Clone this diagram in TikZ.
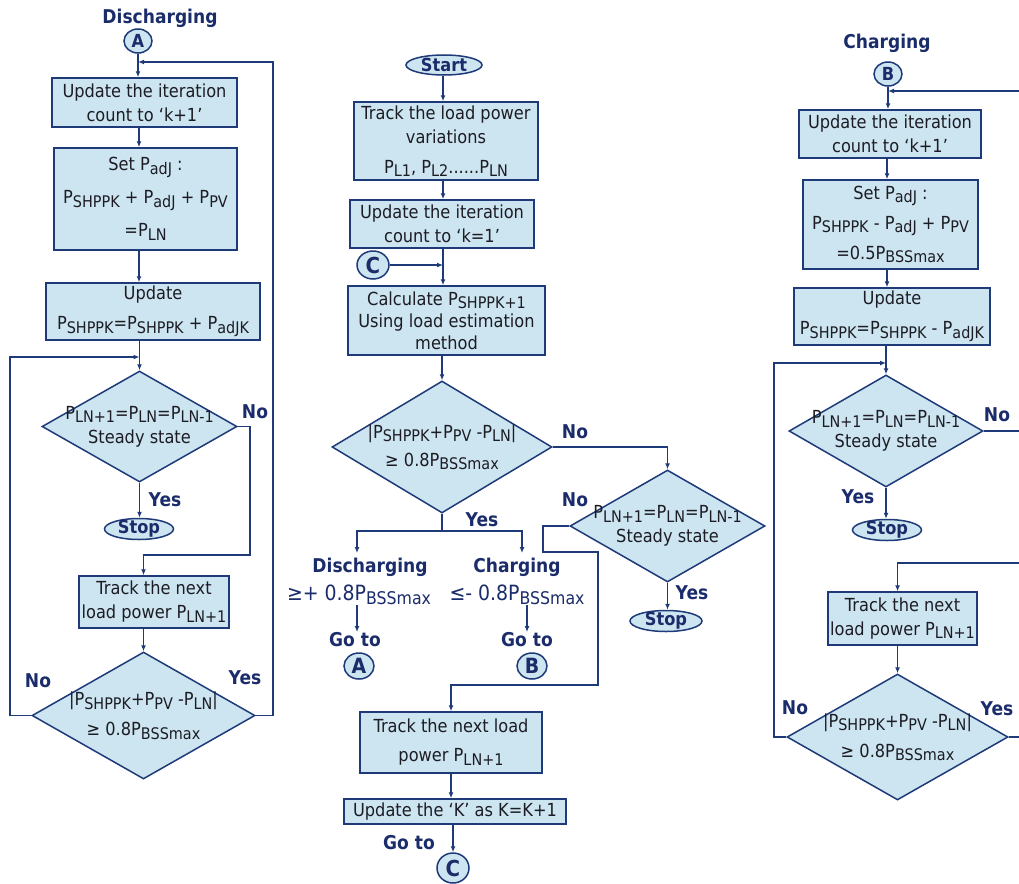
\documentclass[tikz,border=0pt]{standalone}
\usepackage{fontspec}
\setmainfont{DejaVu Sans}[FakeStretch=0.9]
\usetikzlibrary{shapes.geometric,arrows.meta}
\definecolor{navy}{HTML}{1E3A78}
\definecolor{boxfill}{HTML}{CDE5F0}
\definecolor{txt}{HTML}{1C1C24}
\definecolor{lab}{HTML}{1B2C6B}
\newcommand{\lo}[1]{\raisebox{-3.5pt}{\fontsize{16}{16}\selectfont #1}}
\newcommand{\loL}[1]{\raisebox{-3.5pt}{\fontsize{17.5}{17.5}\selectfont #1}}
\tikzset{
  box/.style={draw=navy, fill=boxfill, line width=1.5pt, inner sep=0pt, align=center, text=txt, font=\fontsize{18}{24}\selectfont},
  dia/.style={diamond, draw=navy, fill=boxfill, line width=1.5pt, inner sep=0pt},
  dtext/.style={align=center, text=txt, font=\fontsize{18}{24}\selectfont},
  term/.style={ellipse, draw=navy, fill=boxfill, line width=1.5pt, inner sep=0pt},
  termtext/.style={text=lab, font=\bfseries\fontsize{18}{18}\selectfont},
  lbl/.style={text=lab, inner sep=0pt, font=\bfseries\fontsize{19}{19}\selectfont},
  val/.style={text=lab, inner sep=0pt, font=\fontsize{21}{21}\selectfont},
  arr/.style={draw=navy, line width=1.5pt, -{Latex[length=6pt,width=5pt]}},
  ln/.style={draw=navy, line width=1.5pt},
}
\begin{document}
\begin{tikzpicture}[x=1pt,y=-1pt]
\fill[white] (0,0) rectangle (1019,883);
\path[use as bounding box, clip] (0,0) rectangle (1019,883);
\coordinate (lx) at (139,0);
\coordinate (cx) at (443,0);
\coordinate (rx) at (887,0);
% ---------------- Left column: Discharging ----------------
\node[lbl] (tDis) at (160,18) {Discharging};
\node[term, minimum width=28pt, minimum height=24pt, label={[termtext]center:A}] (cA1) at (138,41) {};
\node[box, minimum width=185pt, minimum height=49pt] (L1) at (144.5,102.5) {Update the iteration\\count to ‘k+1’};
\node[box, minimum width=183pt, minimum height=102pt] (L2) at (145.5,199) {Set P\lo{adJ} :\\[9pt]P\lo{SHPPK} + P\lo{adJ} + P\lo{PV}\\[9pt]=P\lo{LN}};
\node[box, minimum width=214pt, minimum height=57pt] (L3) at (153,311.5) {Update\\[6pt]P\lo{SHPPK}=P\lo{SHPPK} + P\lo{adJK}};
\node[dia, minimum width=195pt, minimum height=111pt, label={[dtext]center:{P\lo{LN+1}=P\lo{LN}=P\lo{LN-1}\\Steady state}}] (LD1) at (139.5,426.5) {};
\node[term, minimum width=69pt, minimum height=21pt, label={[termtext]center:Stop}] (LS) at (139,529) {};
\node[box, minimum width=150pt, minimum height=52pt] (L4) at (154,602) {Track the next\\load power P\lo{LN+1}};
\node[dia, minimum width=223pt, minimum height=127pt, label={[dtext]center:{|P\lo{SHPPK}+P\lo{PV} -P\lo{LN}|\\[6pt]≥ 0.8P\lo{BSSmax}}}] (LD2) at (143.5,715.5) {};
\node[lbl] (lNo1) at (255,412) {No};
\node[lbl] (lYes1) at (165,500) {Yes};
\node[lbl] (lNo2) at (38,681) {No};
\node[lbl] (lYes2) at (245,678) {Yes};
\coordinate (ln1) at (250,555);
\coordinate (lj1) at (10,357);
\coordinate (lj2) at (273,62);
\draw[arr] (cA1.south) -- (cA1.south |- L1.north);
\draw[arr] (L1.south -| lx) -- (L2.north -| lx);
\draw[arr] (L2.south -| lx) -- (L3.north -| lx);
\draw[arr] (L3.south -| LD1.north) -- (LD1.north);
\draw[arr] (LD1.south) -- (LD1.south |- LS.north);
\draw[arr] (LD1.east) -| (ln1) -| (L4.north -| LD2.north);
\draw[arr] (L4.south -| LD2.north) -- (LD2.north);
\draw[arr] (LD2.west) -| (lj1) -- (lj1 -| LD1.north);
\draw[arr] (LD2.east) -| (lj2) -- (lj2 -| cA1);
% ---------------- Centre column ----------------
\node[term, minimum width=76pt, minimum height=20pt, label={[termtext]center:Start}] (St) at (444,65) {};
\node[box, minimum width=184pt, minimum height=78pt] (C1) at (446,141) {Track the load power\\variations\\[6pt]P\lo{L1}, P\lo{L2}......P\lo{LN}};
\node[box, minimum width=184pt, minimum height=48pt] (C2) at (442,224) {Update the iteration\\count to ‘k=1’};
\node[term, minimum width=32pt, minimum height=28pt, label={[termtext, font=\bfseries\fontsize{22}{22}\selectfont]center:C}] (cC1) at (373,265) {};
\node[box, minimum width=197pt, minimum height=69pt, font=\fontsize{18}{22}\selectfont] (C3) at (446.5,320.5) {Calculate P\lo{SHPPK+1}\\Using load estimation\\method};
\node[dia, minimum width=220pt, minimum height=132pt, label={[dtext]center:{|P\lo{SHPPK}+P\lo{PV} -P\lo{LN}|\\[4pt]≥ 0.8P\lo{BSSmax}}}] (CD1) at (442,447) {};
\node[dia, minimum width=195pt, minimum height=112pt, label={[dtext]center:{P\lo{LN+1}=P\lo{LN}=P\lo{LN-1}\\Steady state}}] (CD2) at (667.5,526) {};
\node[term, minimum width=72pt, minimum height=21pt, label={[termtext]center:Stop}] (CS) at (666,621) {};
\node[lbl] (cDis) at (370,567) {Discharging};
\node[val] (cDisV) at (359,595) {≥+ 0.8P\loL{BSSmax}};
\node[lbl] (cGoA) at (355,640) {Go to};
\node[term, minimum width=30pt, minimum height=26pt, label={[termtext, font=\bfseries\fontsize{21}{21}\selectfont]center:A}] (cA2) at (359,666) {};
\node[lbl] (cCh) at (517,567) {Charging};
\node[val] (cChV) at (517,595) {≤- 0.8P\loL{BSSmax}};
\node[lbl] (cGoB) at (527,640) {Go to};
\node[term, minimum width=30pt, minimum height=26pt, label={[termtext, font=\bfseries\fontsize{21}{21}\selectfont]center:B}] (cB2) at (532,666) {};
\node[box, minimum width=182pt, minimum height=61pt] (C4) at (451,742.5) {Track the next load\\[5pt]power P\lo{LN+1}};
\node[box, minimum width=222pt, minimum height=25pt] (C5) at (455,811.5) {Update the ‘K’ as K=K+1};
\node[lbl] (cGoC) at (409,843) {Go to};
\node[term, minimum width=32pt, minimum height=30pt, label={[termtext, font=\bfseries\fontsize{22}{22}\selectfont]center:C}] (cC2) at (453,868) {};
\node[lbl] (cNo1) at (575,432) {No};
\node[lbl] (cYes1) at (482,520) {Yes};
\node[lbl] (cNo2) at (575,500) {No};
\node[lbl] (cYes2) at (692,593) {Yes};
\coordinate (sp) at (442,531);
\coordinate (spL) at (357,531);
\coordinate (spR) at (522,531);
\coordinate (dA) at (357,553);
\coordinate (dB) at (522,553);
\coordinate (gA1) at (357,605);
\coordinate (gA2) at (357,632);
\coordinate (gB1) at (527,605);
\coordinate (gB2) at (527,632);
\coordinate (n1) at (543,552);
\coordinate (n2) at (598,685);
\draw[arr] (St.south -| cx) -- (C1.north -| cx);
\draw[arr] (C1.south -| cx) -- (C2.north -| cx);
\draw[arr] (C2.south -| cx) -- (C3.north -| cx);
\draw[arr] (cC1.east) -- (cC1.east -| cx);
\draw[arr] (C3.south -| CD1.north) -- (CD1.north);
\draw[arr] (CD1.east) -| (CD2.north);
\draw[ln] (CD1.south) -- (sp);
\draw[arr] (sp) -- (spL) -- (dA);
\draw[arr] (sp) -- (spR) -- (dB);
\draw[arr] (gA1) -- (gA2);
\draw[arr] (gB1) -- (gB2);
\draw[arr] (CD2.south) -- (CD2.south |- CS.north);
\draw[arr] (CD2.west) -| (n1) -| (n2) -| (C4.north);
\draw[arr] (C4.south) -- (C4.south |- C5.north);
\draw[arr] (C5.south -| cC2.north) -- (cC2.north);
% ---------------- Right column: Charging ----------------
\node[lbl] (tCh) at (887,43) {Charging};
\node[term, minimum width=28pt, minimum height=24pt, label={[termtext]center:B}] (cB1) at (888,74) {};
\node[box, minimum width=182pt, minimum height=48pt] (R1) at (890,134) {Update the iteration\\count to ‘k+1’};
\node[box, minimum width=175pt, minimum height=89pt] (R2) at (890.5,224.5) {Set P\lo{adJ} :\\[6pt]P\lo{SHPPK} - P\lo{adJ} + P\lo{PV}\\[6pt]=0.5P\lo{BSSmax}};
\node[box, minimum width=196pt, minimum height=57pt] (R3) at (892,316.5) {Update\\[6pt]P\lo{SHPPK}=P\lo{SHPPK} - P\lo{adJK}};
\node[dia, minimum width=194pt, minimum height=112pt, label={[dtext]center:{P\lo{LN+1}=P\lo{LN}=P\lo{LN-1}\\Steady state}}] (RD1) at (886,431) {};
\node[term, minimum width=69pt, minimum height=21pt, label={[termtext]center:Stop}] (RS) at (887,530) {};
\node[box, minimum width=149pt, minimum height=53pt] (R4) at (902.5,618.5) {Track the next\\load power P\lo{LN+1}};
\node[dia, minimum width=221pt, minimum height=126pt, label={[dtext]center:{|P\lo{SHPPK}+P\lo{PV} -P\lo{LN}|\\[6pt]≥ 0.8P\lo{BSSmax}}}] (RD2) at (897.5,737) {};
\node[lbl] (rNo1) at (997,415) {No};
\node[lbl] (rYes1) at (858,497) {Yes};
\node[lbl] (rNo2) at (795,708) {No};
\node[lbl] (rYes2) at (997,709) {Yes};
\coordinate (rj1) at (774,363);
\coordinate (rj2) at (1032,91);
\coordinate (rn1) at (1024,563);
\draw[arr] (cB1.south) -- (cB1.south |- R1.north);
\draw[arr] (R1.south -| rx) -- (R2.north -| rx);
\draw[arr] (R2.south -| rx) -- (R3.north -| rx);
\draw[arr] (R3.south -| RD1.north) -- (RD1.north);
\draw[arr] (RD1.south) -- (RD1.south |- RS.north);
\draw[arr] (R4.south -| RD2.north) -- (RD2.north);
\draw[arr] (RD2.west) -| (rj1) -- (rj1 -| RD1.north);
\draw[arr] (RD2.east) -| (rj2) -- (rj2 -| cB1);
\draw[arr] (RD1.east) -| (rn1) -| (R4.north -| RD2.north);
\end{tikzpicture}
\end{document}
